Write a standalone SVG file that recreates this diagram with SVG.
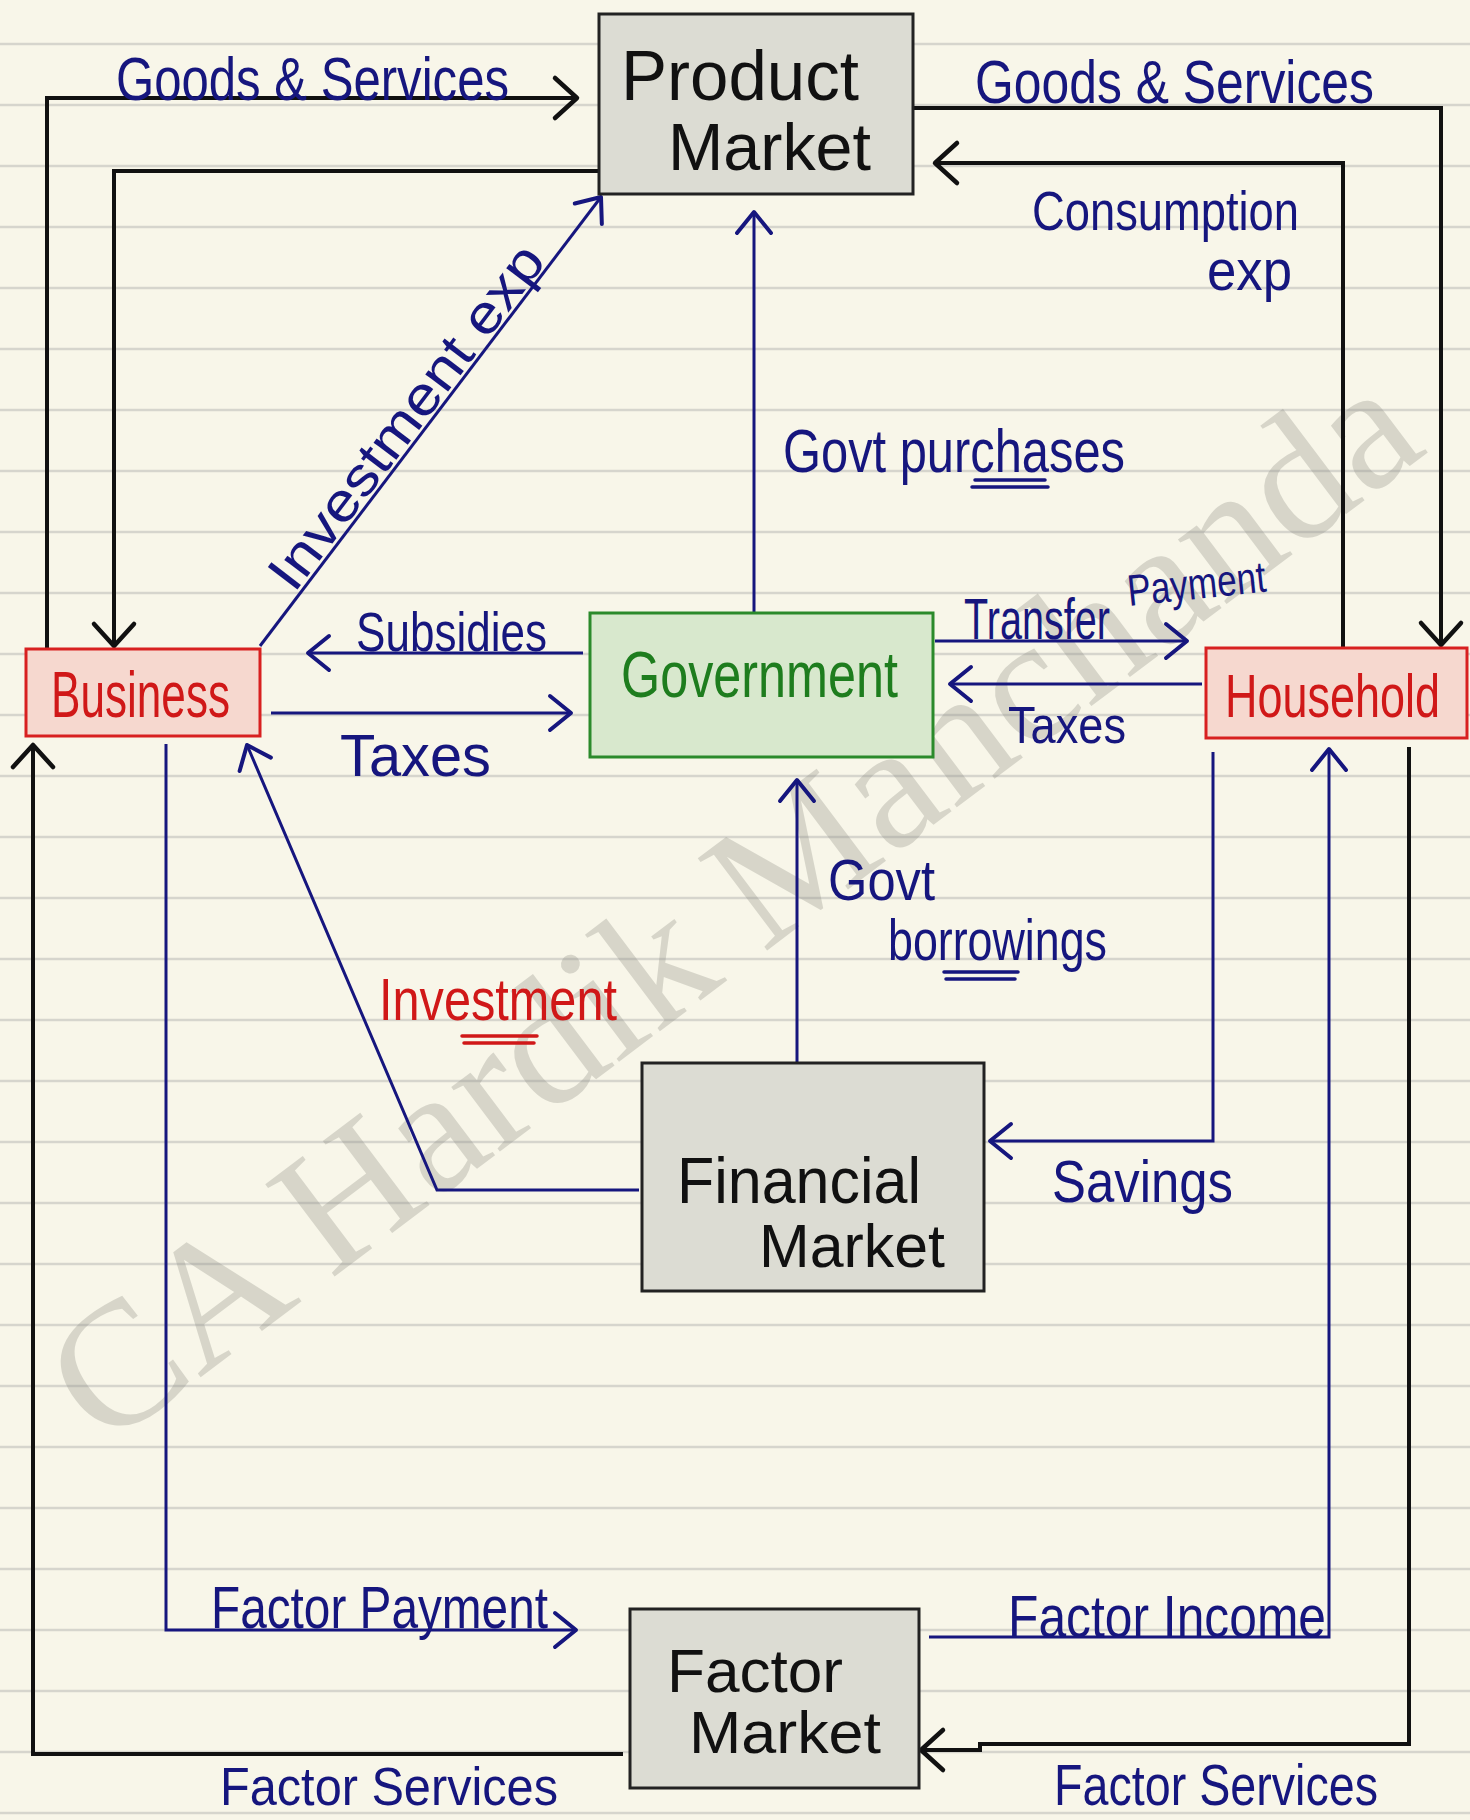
<svg xmlns="http://www.w3.org/2000/svg" width="1470" height="1820" viewBox="0 0 1470 1820">
<defs>
<style>
.bg{fill:#f8f6e9}
.rule{stroke:#d6d5cd;stroke-width:2.5}
.wm{font-family:"Liberation Serif","DejaVu Serif",serif;font-size:176px;fill:#8c8c82;opacity:0.3}
.box{stroke-width:3}
.gray{fill:#dcdcd3;stroke:#222}
.red{fill:#f6d8cf;stroke:#d82020}
.green{fill:#d8e8cd;stroke:#2b8a2b}
.t{font-family:"Liberation Sans Narrow","Liberation Sans",Arial,sans-serif}
.tb{fill:#111}
.tr{fill:#d01818}
.tg{fill:#1e7d1e}
.tn{fill:#16167e}
.lb{fill:none;stroke:#111;stroke-width:4}
.ln{fill:none;stroke:#16167e;stroke-width:3}
.ul{stroke-width:3.5;stroke-linecap:round}
</style>
<marker id="ab" markerUnits="userSpaceOnUse" markerWidth="60" markerHeight="60" refX="0" refY="0" orient="auto" overflow="visible">
<path d="M-22,-20 L0,0 L-22,20" fill="none" stroke="#111" stroke-width="4.5" stroke-linecap="round" stroke-linejoin="round"/>
</marker>
<marker id="an" markerUnits="userSpaceOnUse" markerWidth="60" markerHeight="60" refX="0" refY="0" orient="auto" overflow="visible">
<path d="M-21,-17 L0,0 L-21,17" fill="none" stroke="#16167e" stroke-width="4" stroke-linecap="round" stroke-linejoin="round"/>
</marker>
</defs>

<rect class="bg" x="0" y="0" width="1470" height="1820"/>
<g id="ruled-lines">
<path class="rule" d="M0,44H1470M0,105H1470M0,166H1470M0,227H1470M0,288H1470M0,349H1470M0,410H1470M0,471H1470M0,532H1470M0,593H1470M0,654H1470M0,715H1470M0,776H1470M0,837H1470M0,898H1470M0,959H1470M0,1020H1470M0,1081H1470M0,1142H1470M0,1203H1470M0,1264H1470M0,1325H1470M0,1386H1470M0,1447H1470M0,1508H1470M0,1569H1470M0,1630H1470M0,1691H1470M0,1752H1470M0,1813H1470"/>
</g>
<text class="wm" x="0" y="0" textLength="1660" lengthAdjust="spacingAndGlyphs" transform="translate(104,1450) rotate(-37)">CA Hardik Manchanda</text>

<g id="connectors">
<path class="lb" d="M47,649 V98 H577" marker-end="url(#ab)"/>
<path class="lb" d="M599,171 H114 V646" marker-end="url(#ab)"/>
<path class="lb" d="M913,108 H1441 V645" marker-end="url(#ab)"/>
<path class="lb" d="M1343,648 V163 H935" marker-end="url(#ab)"/>
<path class="lb" d="M1409,747 V1744 H980 V1750 H921" marker-end="url(#ab)"/>
<path class="lb" d="M623,1754 H33 V745" marker-end="url(#ab)"/>

<path class="ln" d="M260,646 L601,197" marker-end="url(#an)"/>
<path class="ln" d="M754,613 V212" marker-end="url(#an)"/>
<path class="ln" d="M583,653 H308" marker-end="url(#an)"/>
<path class="ln" d="M271,713 H571" marker-end="url(#an)"/>
<path class="ln" d="M935,641 H1187" marker-end="url(#an)"/>
<path class="ln" d="M1202,684 H950" marker-end="url(#an)"/>
<path class="ln" d="M797,1062 V780" marker-end="url(#an)"/>
<path class="ln" d="M639,1190 H437 L247,745" marker-end="url(#an)"/>
<path class="ln" d="M1213,752 V1141 H990" marker-end="url(#an)"/>
<path class="ln" d="M166,744 V1630 H576" marker-end="url(#an)"/>
<path class="ln" d="M929,1637 H1329 V749" marker-end="url(#an)"/>

<g class="t tn">
<text x="116" y="100" font-size="62" textLength="393" lengthAdjust="spacingAndGlyphs">Goods &amp; Services</text>
<text x="975" y="103" font-size="62" textLength="399" lengthAdjust="spacingAndGlyphs">Goods &amp; Services</text>
<text x="1032" y="230" font-size="56" textLength="267" lengthAdjust="spacingAndGlyphs">Consumption</text>
<text x="1207" y="290" font-size="58" textLength="85" lengthAdjust="spacingAndGlyphs">exp</text>
<text x="0" y="0" font-size="54" textLength="418" lengthAdjust="spacingAndGlyphs" transform="translate(294,594) rotate(-52.7)">Investment exp</text>
<text x="783" y="472" font-size="62" textLength="342" lengthAdjust="spacingAndGlyphs">Govt purchases</text>
<text x="356" y="651" font-size="56" textLength="191" lengthAdjust="spacingAndGlyphs">Subsidies</text>
<text x="340" y="776" font-size="60" textLength="151" lengthAdjust="spacingAndGlyphs">Taxes</text>
<text x="964" y="639" font-size="58" textLength="146" lengthAdjust="spacingAndGlyphs">Transfer</text>
<text x="0" y="0" font-size="44" textLength="139" lengthAdjust="spacingAndGlyphs" transform="translate(1129,606) rotate(-6)">Payment</text>
<text x="1008" y="743" font-size="52" textLength="118" lengthAdjust="spacingAndGlyphs">Taxes</text>
<text x="828" y="900" font-size="58" textLength="107" lengthAdjust="spacingAndGlyphs">Govt</text>
<text x="888" y="960" font-size="58" textLength="219" lengthAdjust="spacingAndGlyphs">borrowings</text>
<text x="1052" y="1202" font-size="60" textLength="181" lengthAdjust="spacingAndGlyphs">Savings</text>
<text x="211" y="1628" font-size="60" textLength="337" lengthAdjust="spacingAndGlyphs">Factor Payment</text>
<text x="1008" y="1637" font-size="60" textLength="318" lengthAdjust="spacingAndGlyphs">Factor Income</text>
<text x="1054" y="1805" font-size="58" textLength="324" lengthAdjust="spacingAndGlyphs">Factor Services</text>
<text x="220" y="1805" font-size="54" textLength="338" lengthAdjust="spacingAndGlyphs">Factor Services</text>
</g>
<g class="ul" stroke="#16167e">
<path d="M975,480 H1045 M972,487 H1048"/>
<path d="M944,972 H1018 M946,979 H1015"/>
</g>
<text class="t tr" x="379" y="1020" font-size="60" textLength="238" lengthAdjust="spacingAndGlyphs">Investment</text>
<path class="ul" stroke="#d01818" d="M462,1036 H537 M464,1043 H534"/>
</g>

<g id="product-market">
<rect class="box gray" x="599" y="14" width="314" height="180"/>
<text class="t tb" x="621" y="100" font-size="70" textLength="238" lengthAdjust="spacingAndGlyphs">Product</text>
<text class="t tb" x="668" y="170" font-size="66" textLength="203" lengthAdjust="spacingAndGlyphs">Market</text>
</g>
<g id="business">
<rect class="box red" x="26" y="649" width="234" height="87"/>
<text class="t tr" x="51" y="717" font-size="64" textLength="179" lengthAdjust="spacingAndGlyphs">Business</text>
</g>
<g id="government">
<rect class="box green" x="590" y="613" width="343" height="144"/>
<text class="t tg" x="621" y="697" font-size="64" textLength="277" lengthAdjust="spacingAndGlyphs">Government</text>
</g>
<g id="household">
<rect class="box red" x="1206" y="648" width="261" height="90"/>
<text class="t tr" x="1225" y="717" font-size="62" textLength="215" lengthAdjust="spacingAndGlyphs">Household</text>
</g>
<g id="financial-market">
<rect class="box gray" x="642" y="1063" width="342" height="228"/>
<text class="t tb" x="677" y="1203" font-size="64" textLength="244" lengthAdjust="spacingAndGlyphs">Financial</text>
<text class="t tb" x="759" y="1267" font-size="62" textLength="186" lengthAdjust="spacingAndGlyphs">Market</text>
</g>
<g id="factor-market">
<rect class="box gray" x="630" y="1609" width="289" height="179"/>
<text class="t tb" x="667" y="1692" font-size="62" textLength="176" lengthAdjust="spacingAndGlyphs">Factor</text>
<text class="t tb" x="689" y="1753" font-size="60" textLength="192" lengthAdjust="spacingAndGlyphs">Market</text>
</g>
</svg>
